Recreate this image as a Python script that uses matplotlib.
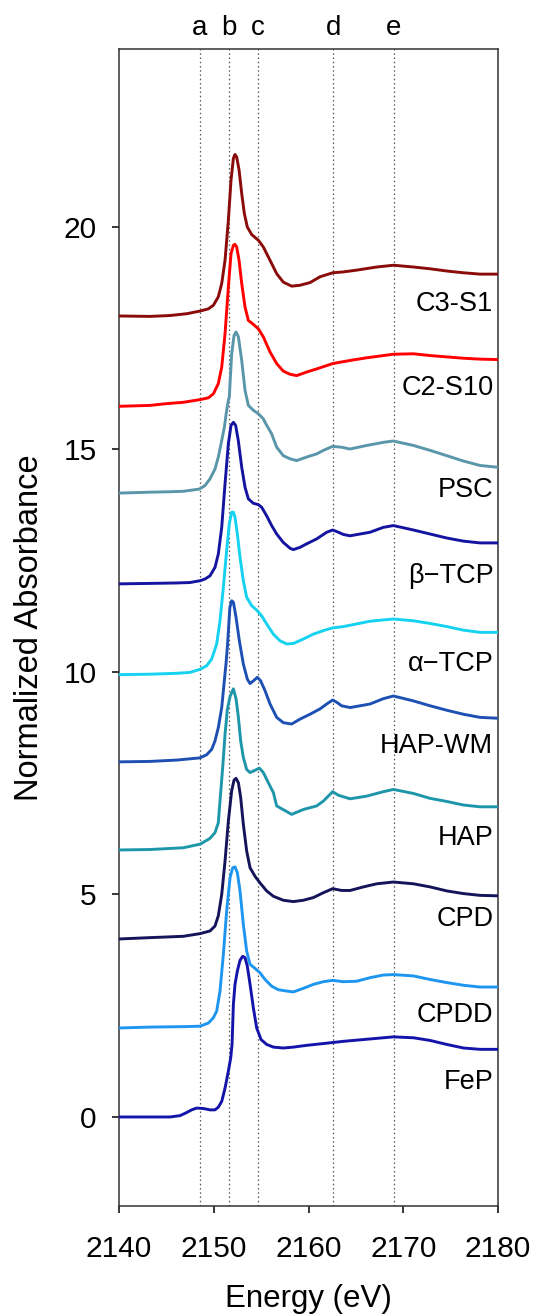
import numpy as np
import matplotlib
matplotlib.use('Agg')
import matplotlib.pyplot as plt
import matplotlib.transforms as mtransforms

plt.rcParams['font.family'] = ['Liberation Sans', 'DejaVu Sans']

# S K-edge XANES spectra, each stacked with its own offset
e_c3s1 = [2140, 2143.27, 2145.38, 2147.14, 2148.55, 2149.43, 2149.96, 2150.48, 2150.84, 2151.19, 2151.54,
          2151.82, 2152.07, 2152.24, 2152.42, 2152.67, 2152.95, 2153.23, 2153.54, 2154.0, 2154.71,
          2155.23, 2155.94, 2156.64, 2157.34, 2158.22, 2159.1, 2160.16, 2161.21, 2162.55, 2163.68,
          2165.08, 2167.2, 2168.96, 2171.07, 2172.83, 2174.59, 2176.35, 2178.1, 2180]
a_c3s1 = [18.0, 17.99, 18.01, 18.05, 18.11, 18.16, 18.24, 18.43, 18.73, 19.25, 20.15,
          21.05, 21.54, 21.63, 21.57, 21.28, 20.75, 20.3, 20.0, 19.83, 19.7,
          19.55, 19.25, 18.95, 18.76, 18.67, 18.69, 18.75, 18.88, 18.97, 18.99,
          19.03, 19.1, 19.14, 19.1, 19.06, 19.01, 18.97, 18.94, 18.94]

e_c2s10 = [2140, 2143.27, 2145.03, 2146.79, 2148.55, 2149.43, 2149.96, 2150.48, 2150.84, 2151.19, 2151.54,
           2151.82, 2152.07, 2152.24, 2152.42, 2152.67, 2152.95, 2153.3, 2153.65, 2154.18, 2154.71,
           2155.23, 2155.94, 2156.64, 2157.34, 2158.05, 2158.75, 2159.81, 2160.86, 2162.55, 2164.38,
           2166.14, 2167.9, 2168.96, 2171.07, 2172.83, 2174.59, 2176.35, 2178.1, 2180]
a_c2s10 = [15.97, 15.99, 16.03, 16.06, 16.12, 16.16, 16.25, 16.48, 16.85, 17.6, 18.65,
           19.4, 19.59, 19.61, 19.55, 19.25, 18.73, 18.2, 17.9, 17.81, 17.71,
           17.53, 17.19, 16.93, 16.76, 16.69, 16.66, 16.74, 16.81, 16.93, 17.0,
           17.06, 17.11, 17.14, 17.15, 17.11, 17.08, 17.05, 17.03, 17.02]

e_psc = [2140, 2143.27, 2145.38, 2146.79, 2148.48, 2149.08, 2149.6, 2150.13, 2150.48, 2150.84, 2151.12,
         2151.36, 2151.54, 2151.64, 2151.89, 2152.14, 2152.35, 2152.6, 2152.95, 2153.3, 2153.65,
         2154.18, 2154.71, 2155.23, 2155.41, 2156.11, 2156.64, 2157.34, 2158.05, 2158.75, 2159.81,
         2160.86, 2161.57, 2162.55, 2163.5, 2164.38, 2166.14, 2167.9, 2168.96, 2171.07, 2172.83,
         2174.59, 2176.35, 2178.1, 2180]
a_psc = [14.02, 14.04, 14.05, 14.06, 14.11, 14.19, 14.34, 14.56, 14.83, 15.2, 15.5,
         15.88, 16.1, 16.18, 17.15, 17.56, 17.64, 17.53, 17.0, 16.33, 15.99,
         15.88, 15.8, 15.69, 15.61, 15.35, 15.05, 14.86, 14.79, 14.75, 14.83,
         14.9, 14.98, 15.07, 15.05, 15.01, 15.09, 15.16, 15.19, 15.09, 14.98,
         14.86, 14.74, 14.64, 14.6]

e_btcp = [2140, 2143.27, 2146.08, 2147.49, 2148.55, 2149.08, 2149.6, 2150.13, 2150.48, 2150.84, 2151.19,
          2151.54, 2151.82, 2152.07, 2152.31, 2152.59, 2152.95, 2153.3, 2153.65, 2154.18, 2154.71,
          2155.06, 2155.58, 2156.11, 2156.64, 2157.34, 2158.05, 2158.4, 2159.1, 2159.81, 2160.86,
          2161.92, 2162.55, 2163.15, 2163.68, 2164.38, 2165.44, 2166.49, 2167.9, 2168.96, 2171.07,
          2172.83, 2174.59, 2176.35, 2178.1, 2180]
a_btcp = [11.98, 11.99, 12.0, 12.01, 12.05, 12.09, 12.16, 12.35, 12.65, 13.25, 14.23,
          15.13, 15.54, 15.61, 15.54, 15.2, 14.6, 14.15, 13.89, 13.79, 13.76,
          13.7, 13.51, 13.29, 13.1, 12.91, 12.78, 12.75, 12.8, 12.88, 12.99,
          13.14, 13.19, 13.14, 13.09, 13.06, 13.1, 13.14, 13.25, 13.29, 13.19,
          13.1, 13.01, 12.94, 12.9, 12.9]

e_atcp = [2140, 2143.27, 2146.08, 2147.49, 2148.55, 2149.25, 2149.78, 2150.31, 2150.66, 2151.01, 2151.36,
          2151.64, 2151.89, 2152.07, 2152.24, 2152.49, 2152.77, 2153.12, 2153.47, 2154.0, 2154.53,
          2155.06, 2155.58, 2156.29, 2156.99, 2157.7, 2158.4, 2159.45, 2160.51, 2161.57, 2162.55,
          2163.68, 2165.08, 2166.49, 2167.9, 2168.96, 2171.07, 2172.83, 2174.59, 2176.35, 2178.1, 2180]
a_atcp = [9.94, 9.95, 9.97, 9.99, 10.06, 10.14, 10.29, 10.63, 11.15, 11.9, 12.73,
          13.33, 13.59, 13.59, 13.48, 13.1, 12.58, 12.05, 11.68, 11.49, 11.39,
          11.26, 11.08, 10.85, 10.7, 10.63, 10.64, 10.74, 10.85, 10.93, 10.99,
          11.02, 11.08, 11.14, 11.17, 11.19, 11.15, 11.09, 11.02, 10.94, 10.89, 10.89]

e_hapwm = [2140, 2143.27, 2146.08, 2148.55, 2149.25, 2149.78, 2150.13, 2150.48, 2150.84, 2151.08, 2151.29,
           2151.45, 2151.7, 2151.89, 2152.07, 2152.35, 2152.7, 2153.12, 2153.54, 2153.83, 2154.18,
           2154.6, 2154.95, 2155.41, 2155.94, 2156.64, 2157.34, 2158.22, 2159.1, 2160.16, 2161.21,
           2161.92, 2162.55, 2162.97, 2163.5, 2164.38, 2165.44, 2166.49, 2167.9, 2168.96, 2171.07,
           2172.83, 2174.59, 2176.35, 2178.1, 2180]
a_hapwm = [7.98, 7.99, 8.02, 8.07, 8.14, 8.26, 8.45, 8.75, 9.2, 9.73, 10.18,
           10.6, 11.45, 11.6, 11.57, 11.23, 10.7, 10.18, 9.84, 9.74, 9.8,
           9.88, 9.8, 9.58, 9.28, 8.98, 8.86, 8.83, 8.94, 9.05, 9.17,
           9.28, 9.37, 9.32, 9.24, 9.2, 9.24, 9.28, 9.4, 9.46, 9.35,
           9.24, 9.14, 9.05, 8.98, 8.96]

e_hap = [2140, 2143.27, 2146.79, 2148.55, 2149.6, 2150.13, 2150.48, 2150.66, 2150.94, 2151.19, 2151.43,
         2151.72, 2152.07, 2152.35, 2152.6, 2152.84, 2153.12, 2153.47, 2153.83, 2154.35, 2154.81,
         2155.23, 2155.76, 2156.29, 2156.64, 2158.22, 2159.45, 2160.86, 2161.57, 2162.55, 2163.15,
         2164.38, 2166.14, 2167.9, 2168.96, 2171.07, 2172.83, 2174.59, 2176.35, 2178.1, 2180]
a_hap = [6.0, 6.01, 6.05, 6.13, 6.26, 6.39, 6.61, 7.1, 7.85, 8.6, 9.15,
         9.45, 9.62, 9.4, 8.98, 8.45, 8.08, 7.81, 7.74, 7.79, 7.84,
         7.74, 7.51, 7.29, 6.99, 6.8, 6.91, 6.99, 7.1, 7.31, 7.23,
         7.15, 7.21, 7.31, 7.36, 7.27, 7.16, 7.09, 7.01, 6.97, 6.97]

e_cpd = [2140, 2143.27, 2146.79, 2148.55, 2149.6, 2150.13, 2150.48, 2150.84, 2151.19, 2151.54, 2151.89,
         2152.14, 2152.35, 2152.6, 2152.84, 2153.12, 2153.47, 2153.83, 2154.35, 2154.88, 2155.58,
         2156.29, 2157.34, 2158.4, 2159.45, 2160.51, 2161.57, 2162.55, 2163.5, 2164.38, 2165.79,
         2167.2, 2168.96, 2171.07, 2172.83, 2174.59, 2176.35, 2178.1, 2180]
a_cpd = [4.0, 4.03, 4.06, 4.12, 4.18, 4.29, 4.52, 5.0, 5.75, 6.65, 7.33,
         7.57, 7.61, 7.51, 7.18, 6.58, 5.98, 5.6, 5.41, 5.26, 5.08,
         4.96, 4.87, 4.84, 4.87, 4.93, 5.04, 5.13, 5.09, 5.09, 5.17,
         5.24, 5.28, 5.24, 5.17, 5.08, 5.02, 4.98, 4.97]

e_cpdd = [2140, 2143.27, 2146.79, 2148.55, 2149.43, 2149.96, 2150.31, 2150.66, 2151.01, 2151.36, 2151.72,
          2152.0, 2152.24, 2152.49, 2152.77, 2153.12, 2153.47, 2153.83, 2154.35, 2154.88, 2155.41,
          2156.11, 2156.81, 2157.69, 2158.4, 2159.45, 2160.51, 2161.57, 2162.55, 2163.68, 2165.08,
          2166.49, 2167.9, 2168.96, 2171.07, 2172.83, 2174.59, 2176.35, 2178.1, 2180]
a_cpdd = [2.0, 2.02, 2.03, 2.04, 2.11, 2.23, 2.38, 2.83, 3.65, 4.63, 5.38,
          5.6, 5.62, 5.49, 5.08, 4.33, 3.73, 3.43, 3.34, 3.24, 3.09,
          2.94, 2.86, 2.83, 2.81, 2.89, 2.98, 3.04, 3.07, 3.04, 3.05,
          3.13, 3.19, 3.2, 3.17, 3.09, 3.02, 2.96, 2.92, 2.92]

e_fep = [2140, 2143.27, 2145.38, 2146.44, 2147.14, 2147.67, 2148.2, 2148.9, 2149.6, 2150.13, 2150.48,
         2150.84, 2151.19, 2151.54, 2151.79, 2151.93, 2152.07, 2152.24, 2152.49, 2152.77, 2153.05,
         2153.3, 2153.54, 2153.83, 2154.18, 2154.53, 2154.99, 2155.58, 2156.29, 2157.34, 2158.4,
         2159.81, 2161.57, 2163.68, 2165.79, 2167.9, 2168.96, 2171.07, 2172.83, 2174.59, 2176.35,
         2178.1, 2180]
a_fep = [0.0, 0.0, 0.0, 0.03, 0.1, 0.16, 0.2, 0.19, 0.16, 0.16, 0.22,
         0.35, 0.65, 1.03, 1.33, 1.63, 2.53, 2.98, 3.28, 3.52, 3.61,
         3.58, 3.39, 2.98, 2.45, 2.0, 1.74, 1.63, 1.57, 1.55, 1.57,
         1.61, 1.65, 1.7, 1.74, 1.78, 1.8, 1.78, 1.72, 1.63, 1.55,
         1.52, 1.52]

names = ['C3-S1', 'C2-S10', 'PSC', 'β\u2212TCP', 'α\u2212TCP', 'HAP-WM', 'HAP', 'CPD', 'CPDD', 'FeP']
energies = [e_c3s1, e_c2s10, e_psc, e_btcp, e_atcp, e_hapwm, e_hap, e_cpd, e_cpdd, e_fep]
spectra = [a_c3s1, a_c2s10, a_psc, a_btcp, a_atcp, a_hapwm, a_hap, a_cpd, a_cpdd, a_fep]
colors = ['#8b0a0a', '#ff0000', '#5a96aa', '#1414a0', '#14d2f0',
          '#1e50b4', '#1e96aa', '#14145a', '#1e96f0', '#1414aa']
label_y = [18.27, 16.37, 14.08, 12.16, 10.18, 8.34, 6.27, 4.44, 2.3, 0.79]

# reference energies of the features
feat_names = ['a', 'b', 'c', 'd', 'e']
feat_e = [2148.5, 2151.6, 2154.7, 2162.6, 2169.0]

fig = plt.figure(figsize=(5.38, 13.16), dpi=100)
ax = fig.add_axes([0.2212, 0.0836, 0.7045, 0.8792])

for x in feat_e:
    ax.axvline(x, color='#555555', lw=0.9, ls=(0, (1.2, 2.2)), zorder=1)

trans = mtransforms.blended_transform_factory(ax.transData, ax.transAxes)
for x, s in zip(feat_e, feat_names):
    ax.text(x, 1.018, s, transform=trans, ha='center', va='center', fontsize=20)

for e, a, c in zip(energies, spectra, colors):
    ax.plot(e, a, color=c, lw=2.1, solid_joinstyle='round', solid_capstyle='round', zorder=3)

for n, y in zip(names, label_y):
    ax.text(2179.5, y, n, ha='right', va='center', fontsize=19.5, zorder=4)

ax.set_xlim(2140, 2180)
ax.set_ylim(-2, 24)
ax.set_xticks([2140, 2150, 2160, 2170, 2180])
ax.set_yticks([0, 5, 10, 15, 20])
ax.tick_params(axis='x', direction='out', length=5, width=1.1, labelsize=21.5, pad=16, top=False)
ax.tick_params(axis='y', direction='out', length=5, width=1.1, labelsize=21.5, pad=11, right=False)
for sp in ax.spines.values():
    sp.set_linewidth(1.1)
    sp.set_color('#333333')

ax.set_xlabel('Energy (eV)', fontsize=22.5)
ax.xaxis.set_label_coords(0.5, -0.067)
ax.set_ylabel('Normalized Absorbance', fontsize=23.5)
ax.yaxis.set_label_coords(-0.195, 0.5)

plt.savefig('out.png', dpi=100)
